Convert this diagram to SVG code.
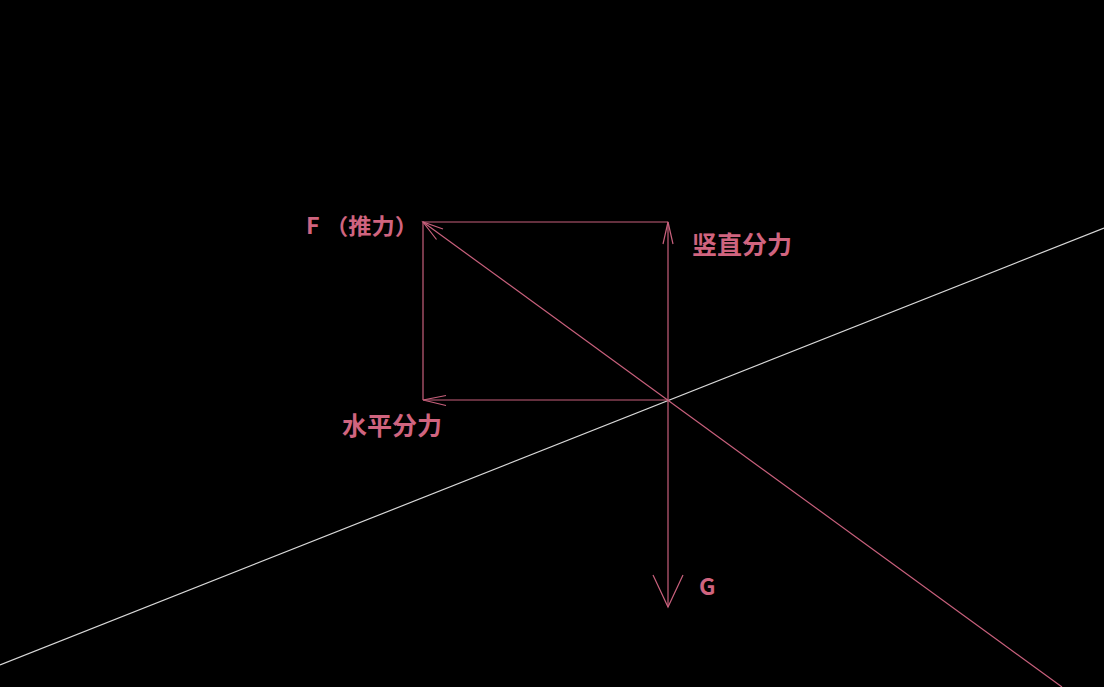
<svg xmlns="http://www.w3.org/2000/svg" width="1104" height="687" viewBox="0 0 1104 687">
<style>
.ln{stroke:#c8607c;stroke-width:1.2;fill:none}
.gr{stroke:#d8d8d8;stroke-width:1.2;fill:none}
.t{fill:#d0647f;font-family:"Noto Sans CJK SC","Liberation Sans",sans-serif;font-weight:bold}
</style>
<rect width="1104" height="687" fill="#000"/>
<g id="connectors">
<line class="gr" x1="0" y1="665" x2="1104" y2="228"/>
<line class="ln" x1="423" y1="222" x2="1062" y2="687"/>
<line class="ln" x1="423" y1="222" x2="668" y2="222"/>
<line class="ln" x1="423" y1="222" x2="423" y2="400"/>
<line class="ln" x1="423" y1="400" x2="668" y2="400"/>
<line class="ln" x1="668" y1="222" x2="668" y2="607"/>
<polyline class="ln" points="443,229 423,222 436.5,239.5"/>
<polyline class="ln" points="663,244 668,222 673,244"/>
<polyline class="ln" points="446,395.5 423,400 446,405.5"/>
<polyline class="ln" points="653,575 668,607 683,575"/>
</g>
<g id="F"><text class="t" x="306" y="234" font-size="22" textLength="112" lengthAdjust="spacingAndGlyphs">F （推力）</text></g>
<g id="vertical"><text class="t" x="692" y="254" font-size="25">竖直分力</text></g>
<g id="horizontal"><text class="t" x="342" y="435" font-size="25">水平分力</text></g>
<g id="G"><text class="t" x="699" y="595" font-size="23">G</text></g>
</svg>
